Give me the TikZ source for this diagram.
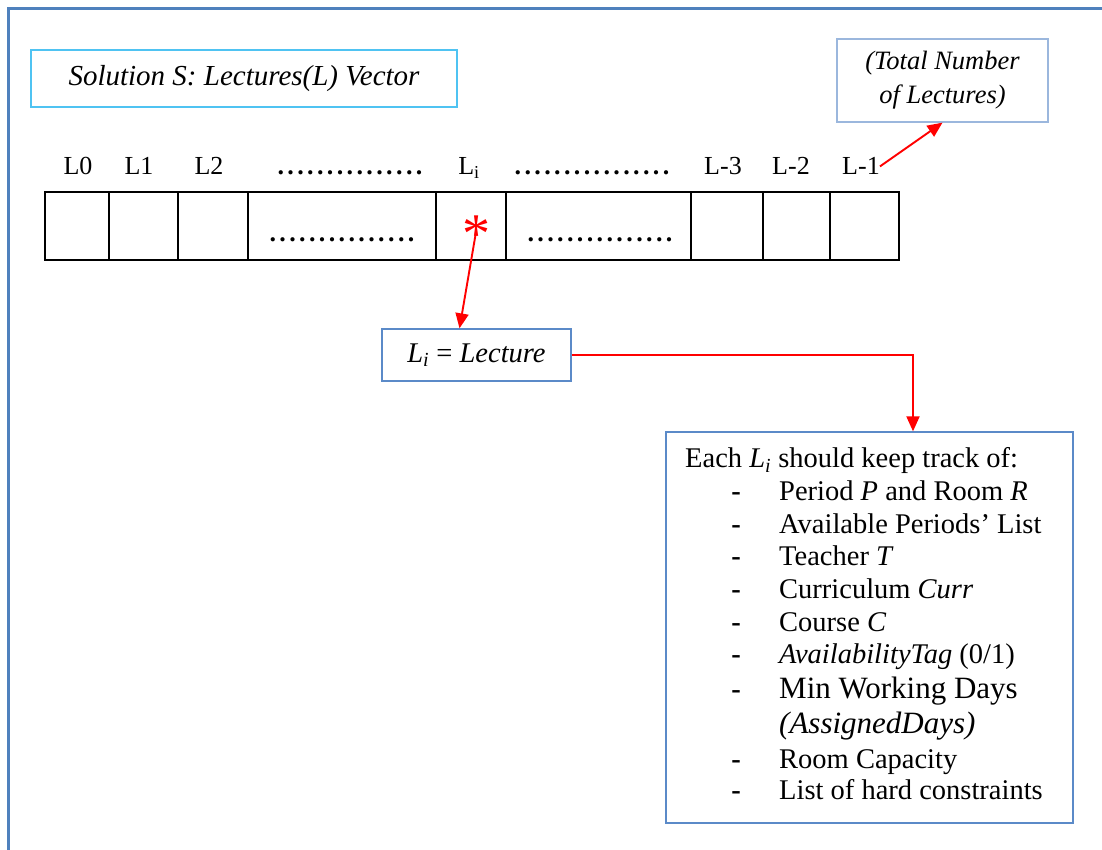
\documentclass[tikz,border=0pt]{standalone}
\usepackage{fontspec}
\setmainfont{Liberation Serif}
\newfontfamily\dotfont[LetterSpace=13]{Liberation Serif}
\usetikzlibrary{arrows.meta}

\definecolor{framebl}{HTML}{4F81BD}
\definecolor{skybl}{HTML}{4FC3F2}
\definecolor{paleb}{HTML}{9BB7DD}
\definecolor{boxbl}{HTML}{5B8AC8}

\tikzset{
  cell/.style={draw=black, line width=1.3pt, minimum height=68pt, inner sep=0pt},
  lab/.style={font=\fontsize{26}{30}\selectfont, anchor=base, inner sep=0pt},
  dots/.style={font=\dotfont\bfseries\fontsize{26}{30}\selectfont, anchor=base, inner sep=0pt},
  redarr/.style={draw=red, line width=1.9pt, -{Triangle[length=15pt,width=13pt]}},
  item/.style={anchor=base west, inner sep=0pt, font=\fontsize{28.5}{32}\selectfont},
  bigitem/.style={anchor=base west, inner sep=0pt, font=\fontsize{31}{34}\selectfont},
}

\begin{document}
\begin{tikzpicture}[x=1pt, y=-1pt]
\useasboundingbox (0,0) rectangle (1102,850);

% page frame (open to the right and bottom)
\draw[framebl, line width=2.6pt] (8.7,850) -- (8.7,8.7) -- (1102,8.7);

% title and count boxes
\node[draw=skybl, line width=1.3pt, minimum width=426pt, minimum height=57pt, inner sep=0pt,
      font=\itshape\fontsize{29}{34}\selectfont] (title) at (244,78.5)
      {Solution S: Lectures(L) Vector};
\node[draw=paleb, line width=1.3pt, minimum width=211pt, minimum height=83pt, inner sep=0pt,
      align=center, font=\itshape\fontsize{26.5}{34}\selectfont] (total) at (942.5,80.5)
      {(Total Number\\of Lectures)};

% the lecture vector
\foreach \a/\b/\n in {45/109/c0, 109/178/c1, 178/248/c2, 248/436/cdots, 436/506/ci,
                      506/691/cdots2, 691/763/cm3, 763/830/cm2, 830/899/cm1}{
  \pgfmathsetmacro{\w}{\b-\a}
  \pgfmathsetmacro{\m}{(\a+\b)/2}
  \node[cell, minimum width=\w pt] (\n) at (\m,226) {};
}

% index labels above the cells
\node[lab] (l0) at (78,175) {L0};
\node[lab] (l1) at (139,175) {L1};
\node[lab] (l2) at (209,175) {L2};
\node[dots] (d1) at (350,175) {...............};
\node[lab] (li) at (469,175) {L\textsubscript{i}};
\node[dots] (d2) at (592,175) {................};
\node[lab] (lm3) at (723,175) {L-3};
\node[lab] (lm2) at (791,175) {L-2};
\node[lab] (lm1) at (861,175) {L-1};

% dots inside the vector
\node[dots] (d3) at (342,242) {...............};
\node[dots] (d4) at (600,242) {...............};

% marked element
\node[text=red, inner sep=0pt, font=\fontsize{56}{56}\selectfont] (star) at (476,234) {*};

% single lecture box
\node[draw=boxbl, line width=1.3pt, minimum width=189pt, minimum height=52pt, inner sep=0pt,
      font=\fontsize{28.5}{32}\selectfont] (lect) at (476.5,355)
      {\textit{L}\textsubscript{\textit{i}} = \textit{Lecture}};

% contents box
\node[draw=boxbl, line width=1.3pt, minimum width=407pt, minimum height=391pt, inner sep=0pt]
      (each) at (869.5,627.5) {};

\node[item] (e0) at (685,467.5) {Each \textit{L}\textsubscript{\textit{i}} should keep track of:};
\foreach \y/\t/\s [count=\k] in {
   500.5/{Period \textit{P} and Room \textit{R}}/item,
   533/{Available Periods’ List}/item,
   565.5/{Teacher \textit{T}}/item,
   598/{Curriculum \textit{Curr}}/item,
   631/{Course \textit{C}}/item,
   663.5/{\textit{AvailabilityTag} (0/1)}/item,
   698.5/{Min Working Days}/bigitem,
   768.5/{Room Capacity}/item,
   799.5/{List of hard constraints}/item}{
  \node[item, anchor=base] (b\k) at (736,\y) {\textbf{-}};
  \node[\s] (e\k) at (779,\y) {\t};
}
\node[bigitem] (e10) at (779,733.5) {\textit{(AssignedDays)}};

% connectors
\draw[redarr] ([yshift=2pt]star.center) -- ([xshift=-17pt]lect.north);
\draw[redarr] (lm1.east) -- (total.south);
\draw[redarr] (lect.east) -| ([xshift=43.5pt]each.north);
\end{tikzpicture}
\end{document}
